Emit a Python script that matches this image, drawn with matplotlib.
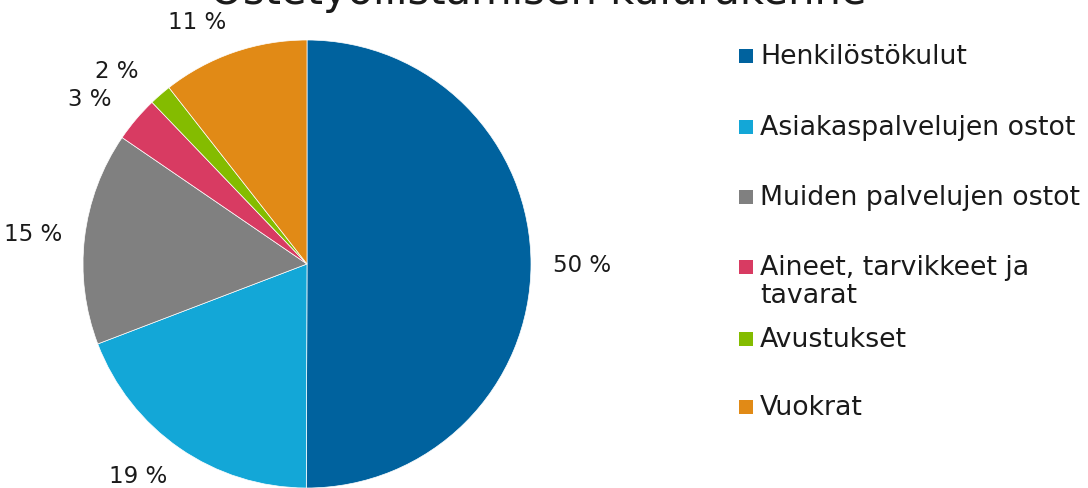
import numpy as np
import matplotlib.pyplot as plt
from matplotlib.patches import Rectangle

plt.rcParams['font.family'] = ['DejaVu Sans']

# data
categories = ['Henkilöstökulut', 'Asiakaspalvelujen ostot', 'Muiden palvelujen ostot',
              'Aineet, tarvikkeet ja\ntavarat', 'Avustukset', 'Vuokrat']
shares = [50.2, 19.2, 15.4, 3.3, 1.6, 10.6]
colors = ['#00629E', '#13A7D7', '#808080', '#D83B62', '#84BC00', '#E18A16']
title = 'Ostetyöllistämisen kulurakenne'

W, H = 1088, 489
fig = plt.figure(figsize=(W / 100, H / 100), dpi=100)

# pie: centre ~ (307, 265) px, radius ~224 px
ax = fig.add_axes([83 / W, 0.0, 448 / W, 448 / H])
wedges, _ = ax.pie(shares, colors=colors, startangle=90, counterclock=False,
                   wedgeprops=dict(linewidth=0.5, edgecolor='white'))
ax.set_xlim(-1, 1)
ax.set_ylim(-1, 1)
ax.set_aspect('equal')

# percentage labels just outside each wedge (label box corner at a fixed gap)
total = sum(shares)
for w, v in zip(wedges, shares):
    ang = np.deg2rad((w.theta1 + w.theta2) / 2)
    c, s = np.cos(ang), np.sin(ang)
    x = 1.1 * c + 0.13 * np.sign(round(c, 3))
    y = 1.145 * s
    ax.text(x, y, f'{v / total * 100:.0f} %', ha='center', va='center',
            fontsize=16.5, color='#1a1a1a', clip_on=False)

# title, mostly cut off at the top as in the reference
fig.text(538 / W, 1 - 4 / H, title, ha='center', va='baseline',
         fontsize=30, color='#1a1a1a')

# hand-built legend (one entry wraps onto two lines)
legend_rows = [57, 128, 198, 268, 340, 408]
fs = 19.3
for wedge, label, y in zip(wedges, categories, legend_rows):
    yf = 1 - y / H
    fig.patches.append(Rectangle((739 / W, yf - 7 / H), 14 / W, 14 / H,
                                 transform=fig.transFigure,
                                 facecolor=wedge.get_facecolor(), edgecolor='none'))
    if '\n' in label:
        fig.text(760 / W, 1 - (y - 13) / H, label, ha='left', va='top',
                 fontsize=fs, color='#1a1a1a', linespacing=1.12)
    else:
        fig.text(760 / W, yf, label, ha='left', va='center',
                 fontsize=fs, color='#1a1a1a')

fig.savefig('out.png', dpi=100)
